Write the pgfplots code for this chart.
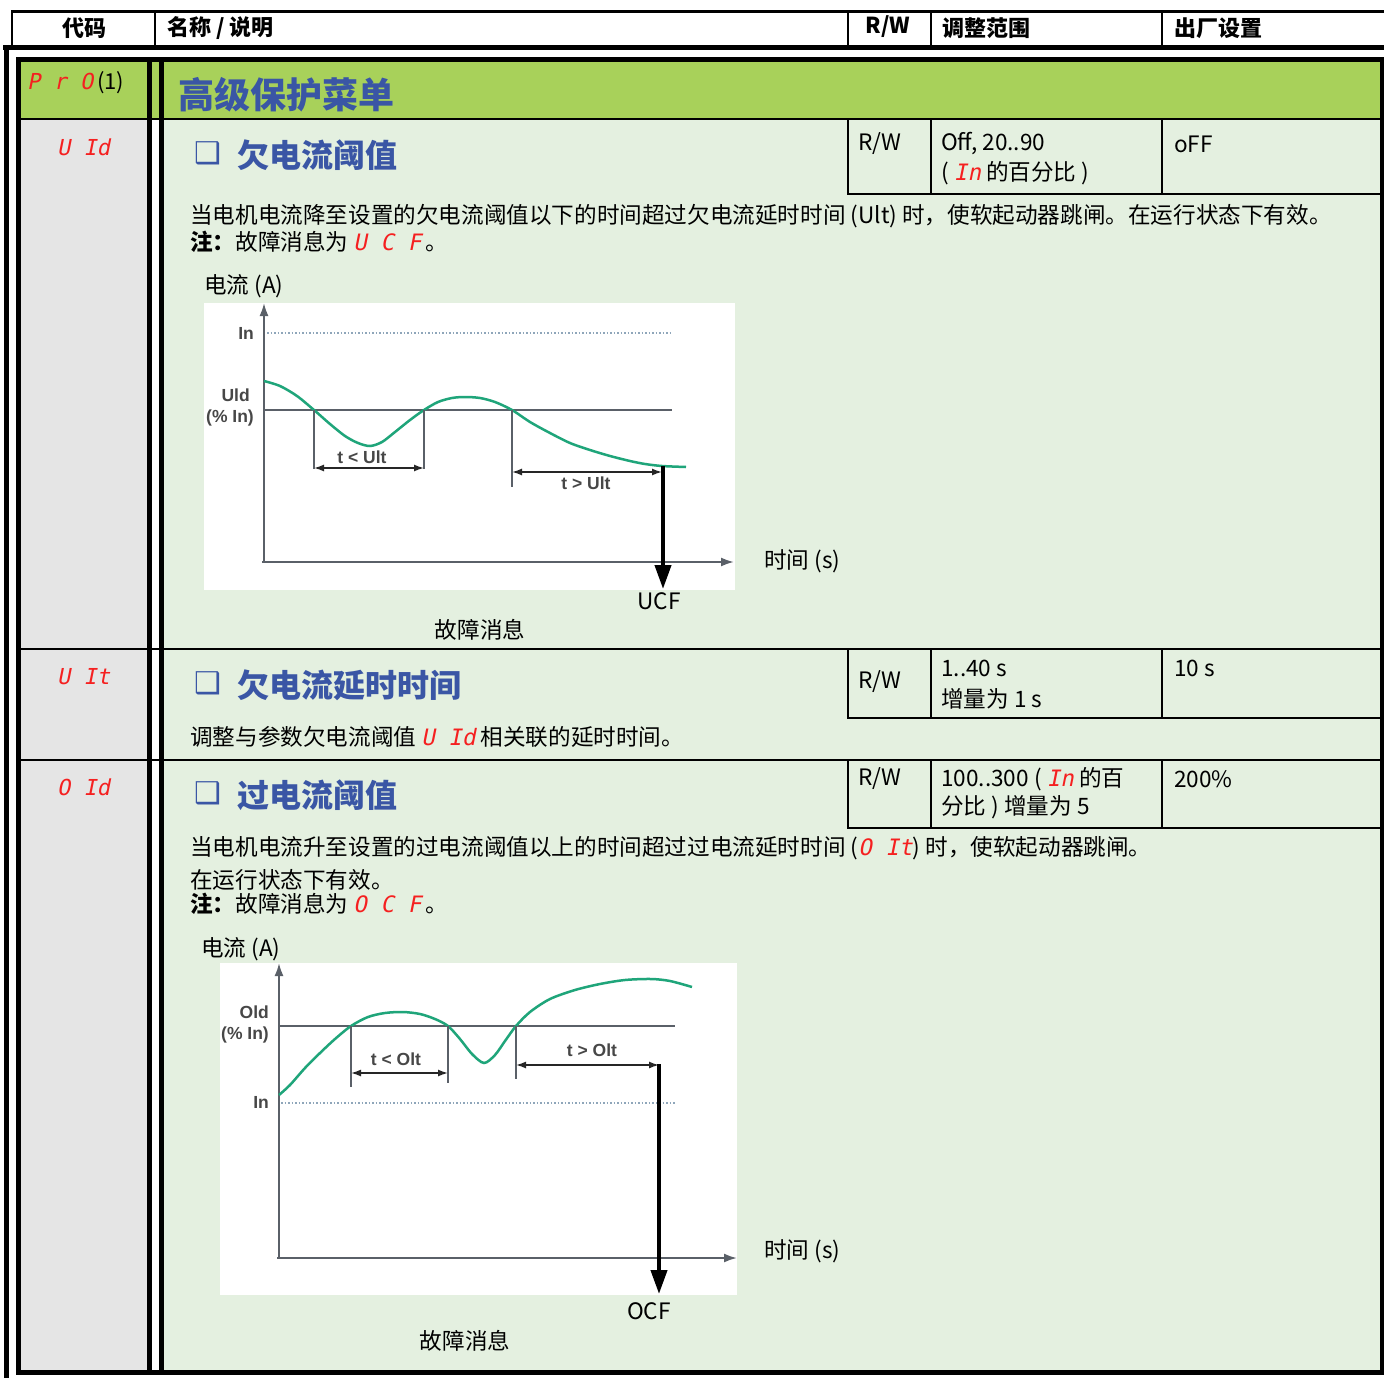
\documentclass[border=0pt]{standalone}
\usepackage{pgfplots}
\pgfplotsset{compat=1.18}
\usepackage{fontspec}
\usetikzlibrary{arrows.meta}
\setmainfont{Noto Sans CJK SC}
\newfontfamily\arial{Liberation Sans}
\newfontfamily\segfont{DejaVu Sans Mono}[FakeSlant=0.2]
\newfontfamily\dejavu{DejaVu Sans}
\definecolor{titlegreen}{HTML}{A8D15A}
\definecolor{paleg}{HTML}{E4F0E0}
\definecolor{codegray}{HTML}{E5E5E5}
\definecolor{blueT}{HTML}{3A56A5}
\definecolor{segred}{HTML}{F52020}
\definecolor{curveg}{HTML}{1FA57A}
\definecolor{axgray}{HTML}{5A6068}
\definecolor{dotb}{HTML}{8FA6BA}
\newcommand\seg[1]{{\color{segred}\segfont #1}}
\tikzset{
  body/.style={anchor=west,inner sep=0pt,font=\fontsize{22.6}{26}\selectfont},
  head/.style={anchor=west,inner sep=0pt,font=\fontsize{22}{26}\selectfont\bfseries},
  sect/.style={anchor=west,inner sep=0pt,text=blueT,font=\fontsize{32}{36}\selectfont\bfseries},
  code/.style={anchor=west,inner sep=0pt,font=\fontsize{22}{26}\selectfont},
  lab/.style={inner sep=0pt,text=black!72,font=\arial\bfseries\fontsize{17.5}{19}\selectfont},
  dim/.style={black!85,line width=1.5pt,{Latex[length=10pt,width=7pt]}-{Latex[length=10pt,width=7pt]}},
  ax/.style={axgray,line width=2pt,-{Latex[length=13pt,width=9pt]}},
  trip/.style={black,line width=4pt,-{Triangle[length=24pt,width=16pt]}}
}
\begin{document}
\begin{tikzpicture}[x=1pt,y=1pt]
\useasboundingbox (0,0) rectangle (1384,-1378);
% backgrounds
\fill[titlegreen] (18,-60) rectangle (1382,-119);
\fill[codegray] (18,-119) rectangle (149,-1372);
\fill[paleg] (161,-119) rectangle (1382,-1372);
\fill[white] (204,-303) rectangle (735,-590);
\fill[white] (220,-963) rectangle (737,-1295);
% header
\draw[line width=3pt] (11,-11.5) -- (1384,-11.5);
\draw[line width=2pt] (12,-11) -- (12,-47);
\foreach \xx in {155,848,931,1162} \draw[line width=1.2pt] (\xx,-11) -- (\xx,-46);
\draw[line width=5pt] (3,-47.5) -- (1384,-47.5);
\node[head,anchor=center] at (84,-28) {代码};
\node[head] at (167,-28) {名称 / 说明};
\node[head,anchor=center] at (888,-27) {R/W};
\node[head] at (942,-28) {调整范围};
\node[head] at (1174,-28) {出厂设置};
% frames
\draw[line width=5pt] (6.5,-45) -- (6.5,-1378);
\draw[line width=1.5pt] (18,-119) -- (1382,-119);
\draw[line width=2pt] (18,-649) -- (1382,-649);
\draw[line width=2pt] (18,-760) -- (1382,-760);
\draw[line width=5pt] (18.5,-59.5) rectangle (1382.5,-1372.5);
\draw[line width=5pt] (149.5,-59.5) -- (149.5,-1372.5);
\draw[line width=5pt] (161.5,-59.5) -- (161.5,-1372.5);
% parameter sub-boxes
\foreach \ya/\yb in {119/194,649/718,760/828}{
  \draw[line width=1.3pt] (848,-\ya) -- (848,-\yb) -- (1382,-\yb);
  \draw[line width=1.3pt] (931,-\ya) -- (931,-\yb);
  \draw[line width=1.3pt] (1162,-\ya) -- (1162,-\yb);
}
% title row
\node[code] at (27,-83) {\seg{P r O}\,(1)};
\node[anchor=west,inner sep=0pt,text=blueT,font=\fontsize{36}{40}\selectfont\bfseries] at (178,-95) {高级保护菜单};
% row UId
\node[code] at (57,-147) {\seg{U Id}};
\node[anchor=west,inner sep=0pt,text=blueT,font=\dejavu\bfseries\fontsize{30}{34}\selectfont] at (194,-153) {❑};
\node[sect] at (237,-155) {欠电流阈值};
\node[body] at (858,-144) {R/W};
\node[body] at (941,-144) {Off, 20..90};
\node[body] at (941,-173) {( \seg{In} 的百分比 )};
\node[body] at (1174,-144) {oFF};
\node[body] at (190,-216) {当电机电流降至设置的欠电流阈值以下的时间超过欠电流延时时间 (Ult) 时，使软起动器跳闸。在运行状态下有效。};
\node[body] at (190,-242) {\textbf{注：}故障消息为 \seg{U C F}\,。};
\node[body] at (204,-286) {电流 (A)};
\node[body] at (764,-561) {时间 (s)};
\node[body,anchor=center] at (659,-601) {UCF};
\node[body,anchor=center] at (480,-630) {故障消息};
% chart 1
\begin{axis}[at={(204pt,-590pt)},anchor=south west,scale only axis,
  width=531pt,height=287pt,xmin=204,xmax=735,ymin=-590,ymax=-303,
  hide axis,clip=false]
\draw[dotb,dotted,line width=1.5pt] (267,-333) -- (673,-333);
\draw[axgray,line width=1.5pt] (264,-410) -- (672,-410);
\draw[ax] (262,-562) -- (734,-562);
\draw[ax] (264,-562) -- (264,-303);
\addplot[curveg,line width=2.5pt,smooth] coordinates {
 (264,-381) (280,-386) (297,-396) (314,-410) (330,-424) (345,-436)
 (358,-443) (370,-446) (382,-442) (395,-432) (410,-420) (424,-410)
 (438,-402) (452,-398) (465,-397) (480,-398) (495,-402) (512,-410)
 (530,-422) (550,-433) (570,-443) (590,-450) (610,-456) (630,-461)
 (645,-464) (662,-466) (686,-467)};
\draw[axgray,line width=1.5pt] (314,-410) -- (314,-469);
\draw[axgray,line width=1.5pt] (424,-410) -- (424,-469);
\draw[axgray,line width=1.5pt] (512,-410) -- (512,-487);
\draw[dim] (314,-468) -- (424,-468);
\draw[dim] (512,-472) -- (662,-472);
\draw[trip] (663,-466) -- (663,-589);
\node[lab,anchor=east] at (254,-333) {In};
\node[lab,anchor=east] at (250,-395) {Uld};
\node[lab,anchor=east] at (254,-418) {(\% In)};
\node[lab] at (362,-457) {t < Ult};
\node[lab] at (586,-483) {t > Ult};
\end{axis}
% row UIt
\node[code] at (57,-677) {\seg{U It}};
\node[anchor=west,inner sep=0pt,text=blueT,font=\dejavu\bfseries\fontsize{30}{34}\selectfont] at (194,-683) {❑};
\node[sect] at (237,-685) {欠电流延时时间};
\node[body] at (858,-682) {R/W};
\node[body] at (941,-668) {1..40 s};
\node[body] at (941,-699) {增量为 1 s};
\node[body] at (1174,-668) {10 s};
\node[body] at (190,-737) {调整与参数欠电流阈值 \seg{U Id} 相关联的延时时间。};
% row OId
\node[code] at (57,-787) {\seg{O Id}};
\node[anchor=west,inner sep=0pt,text=blueT,font=\dejavu\bfseries\fontsize{30}{34}\selectfont] at (194,-793) {❑};
\node[sect] at (237,-795) {过电流阈值};
\node[body] at (858,-779) {R/W};
\node[body] at (941,-779) {100..300 ( \seg{In} 的百};
\node[body] at (941,-807) {分比 ) 增量为 5};
\node[body] at (1174,-779) {200\%};
\node[body] at (190,-848) {当电机电流升至设置的过电流阈值以上的时间超过过电流延时时间 (\seg{O It}) 时，使软起动器跳闸。};
\node[body] at (190,-880) {在运行状态下有效。};
\node[body] at (190,-904) {\textbf{注：}故障消息为 \seg{O C F}\,。};
\node[body] at (201,-949) {电流 (A)};
\node[body] at (764,-1251) {时间 (s)};
\node[body,anchor=center] at (649,-1311) {OCF};
\node[body,anchor=center] at (465,-1341) {故障消息};
% chart 2
\begin{axis}[at={(220pt,-1295pt)},anchor=south west,scale only axis,
  width=517pt,height=332pt,xmin=220,xmax=737,ymin=-1295,ymax=-963,
  hide axis,clip=false]
\draw[dotb,dotted,line width=1.5pt] (281,-1103) -- (675,-1103);
\draw[axgray,line width=1.5pt] (279,-1026) -- (675,-1026);
\draw[ax] (277,-1258) -- (737,-1258);
\draw[ax] (279,-1258) -- (279,-963);
\addplot[curveg,line width=2.5pt,smooth] coordinates {
 (279,-1095) (290,-1085) (305,-1068) (320,-1053) (335,-1039) (351,-1026)
 (368,-1017) (385,-1013) (403,-1012) (420,-1014) (435,-1019) (448,-1026)
 (460,-1039) (472,-1054) (484,-1063) (495,-1055) (505,-1041) (516,-1026)
 (530,-1012) (550,-999) (575,-990) (600,-984) (625,-980) (651,-979)
 (670,-981) (692,-987)};
\draw[axgray,line width=1.5pt] (351,-1026) -- (351,-1087);
\draw[axgray,line width=1.5pt] (448,-1026) -- (448,-1083);
\draw[axgray,line width=1.5pt] (516,-1026) -- (516,-1079);
\draw[dim] (351,-1073) -- (448,-1073);
\draw[dim] (516,-1065) -- (659,-1065);
\draw[trip] (659,-1064) -- (659,-1294);
\node[lab,anchor=east] at (269,-1012) {Old};
\node[lab,anchor=east] at (269,-1035) {(\% In)};
\node[lab,anchor=east] at (269,-1102) {In};
\node[lab] at (396,-1059) {t < Olt};
\node[lab] at (592,-1050) {t > Olt};
\end{axis}
\end{tikzpicture}
\end{document}
